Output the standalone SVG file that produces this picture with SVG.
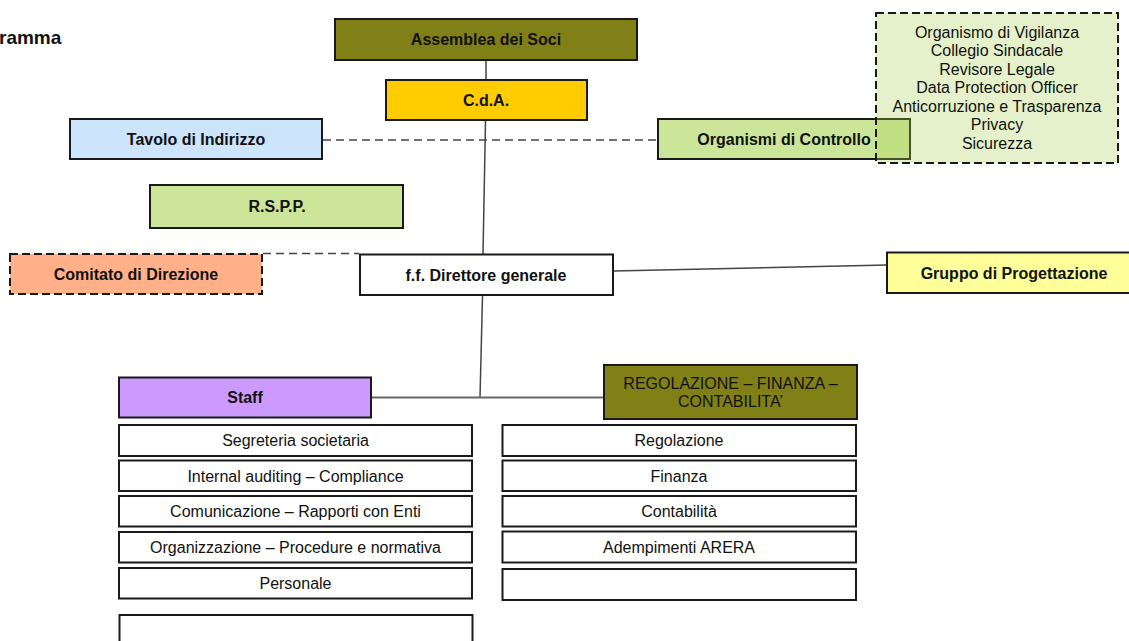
<svg xmlns="http://www.w3.org/2000/svg" width="1129" height="641" viewBox="0 0 1129 641">
<style>
.b{stroke:#1a1a1a;stroke-width:2}
.d{stroke:#1a1a1a;stroke-width:2;stroke-dasharray:8,4}
.tb{font-family:"Liberation Sans",Arial,sans-serif;font-size:16px;font-weight:bold;fill:#111;text-anchor:middle}
.t{font-family:"Liberation Sans",Arial,sans-serif;font-size:16px;fill:#111;text-anchor:middle}
.c{stroke:#444;stroke-width:1.5;fill:none}
.cd{stroke:#444;stroke-width:1.5;fill:none;stroke-dasharray:8,5}
</style>
<rect width="1129" height="641" fill="#fff"/>
<text x="-1" y="44" font-family="Liberation Sans, Arial, sans-serif" font-size="19" font-weight="bold" fill="#111">ramma</text>
<g id="connectors">
<line class="c" x1="486" y1="60" x2="486" y2="80"/>
<line class="c" x1="485.5" y1="121" x2="483" y2="254"/>
<line class="cd" x1="323" y1="140" x2="658" y2="140"/>
<line class="cd" x1="263" y1="253.5" x2="359" y2="253.5"/>
<line class="c" x1="614" y1="271" x2="887" y2="265"/>
<line class="c" x1="482.5" y1="296" x2="480" y2="397.5"/>
<line stroke="#666" stroke-width="2" x1="372" y1="397.5" x2="604" y2="397.5"/>
</g>
<g id="assemblea"><rect class="b" x="335" y="19" width="302" height="41" fill="#808017"/><text class="tb" x="486" y="45">Assemblea dei Soci</text></g>
<g id="cda"><rect class="b" x="386" y="80" width="201" height="40" fill="#FFCC00"/><text class="tb" x="486" y="106">C.d.A.</text></g>
<g id="tavolo"><rect class="b" x="70" y="119" width="252" height="40" fill="#CCE4FC"/><text class="tb" x="196" y="144.5">Tavolo di Indirizzo</text></g>
<g id="organismi"><rect class="b" x="658" y="119" width="252" height="40" fill="#CCE699"/><text class="tb" x="784" y="144.5">Organismi di Controllo</text></g>
<g id="controllo-elenco">
<rect class="d" x="876" y="13" width="242" height="150" fill="rgb(170,210,80)" fill-opacity="0.3"/>
<text class="t" x="997" y="37.5">Organismo di Vigilanza</text>
<text class="t" x="997" y="56">Collegio Sindacale</text>
<text class="t" x="997" y="74.5">Revisore Legale</text>
<text class="t" x="997" y="93">Data Protection Officer</text>
<text class="t" x="997" y="111.5">Anticorruzione e Trasparenza</text>
<text class="t" x="997" y="130">Privacy</text>
<text class="t" x="997" y="148.5">Sicurezza</text>
</g>
<g id="rspp"><rect class="b" x="150" y="185" width="253" height="43" fill="#CDE598"/><text class="tb" x="277" y="212">R.S.P.P.</text></g>
<g id="comitato"><rect class="d" x="10" y="254" width="252" height="40" fill="#FFB088"/><text class="tb" x="136" y="280">Comitato di Direzione</text></g>
<g id="direttore"><rect class="b" x="360" y="254.5" width="253" height="40.5" fill="#fff"/><text class="tb" x="486" y="280.5">f.f. Direttore generale</text></g>
<g id="gruppo"><rect class="b" x="887" y="252.5" width="253" height="40.5" fill="#FFFF99"/><text class="tb" x="1014" y="278.5">Gruppo di Progettazione</text></g>
<g id="staff"><rect class="b" x="119" y="377.5" width="252" height="40" fill="#CC99FF"/><text class="tb" x="245" y="403">Staff</text></g>
<g id="regolazione"><rect class="b" x="604" y="365" width="253" height="54" fill="#808017"/><text class="t" x="730.5" y="389">REGOLAZIONE – FINANZA –</text><text class="t" x="730.5" y="406.5">CONTABILITA’</text></g>
<g id="staff-elenco">
<rect class="b" x="119" y="425" width="353" height="31" fill="#fff"/><text class="t" x="295.5" y="446">Segreteria societaria</text>
<rect class="b" x="119" y="460.5" width="353" height="30.5" fill="#fff"/><text class="t" x="295.5" y="481.5">Internal auditing – Compliance</text>
<rect class="b" x="119" y="496" width="353" height="30.5" fill="#fff"/><text class="t" x="295.5" y="517">Comunicazione – Rapporti con Enti</text>
<rect class="b" x="119" y="532" width="353" height="30.5" fill="#fff"/><text class="t" x="295.5" y="553">Organizzazione – Procedure e normativa</text>
<rect class="b" x="119" y="568" width="353" height="30.5" fill="#fff"/><text class="t" x="295.5" y="589">Personale</text>
<rect class="b" x="119.5" y="615" width="353" height="40" fill="#fff"/>
</g>
<g id="regolazione-elenco">
<rect class="b" x="502.5" y="425" width="353.5" height="31" fill="#fff"/><text class="t" x="679" y="446">Regolazione</text>
<rect class="b" x="502.5" y="460.5" width="353.5" height="30.5" fill="#fff"/><text class="t" x="679" y="481.5">Finanza</text>
<rect class="b" x="502.5" y="496" width="353.5" height="30.5" fill="#fff"/><text class="t" x="679" y="517">Contabilità</text>
<rect class="b" x="502.5" y="531.5" width="353.5" height="31" fill="#fff"/><text class="t" x="679" y="552.5">Adempimenti ARERA</text>
<rect class="b" x="502.5" y="569" width="353.5" height="31" fill="#fff"/>
</g>
</svg>
